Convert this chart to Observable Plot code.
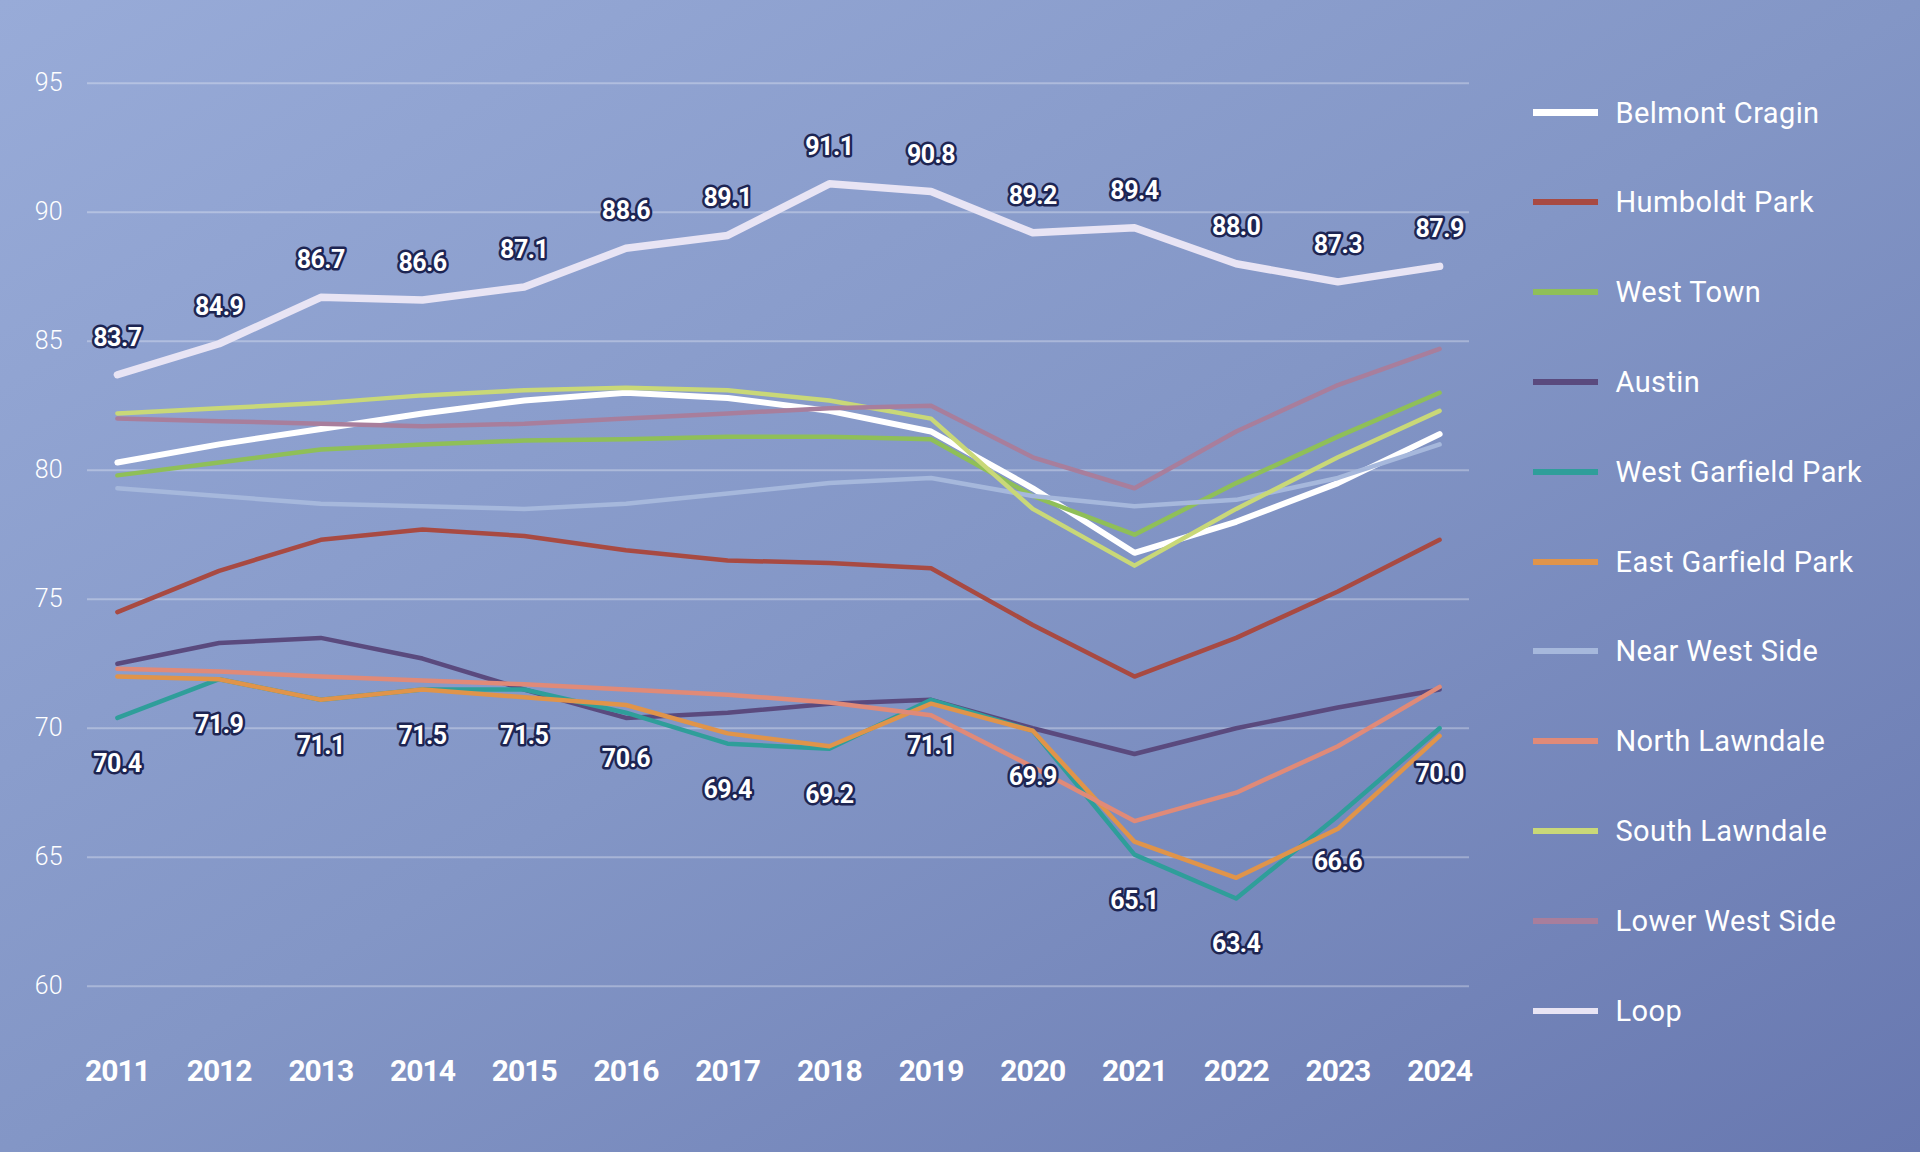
<!DOCTYPE html>
<html>
<head>
<meta charset="utf-8">
<script src="https://cdn.jsdelivr.net/npm/d3@7"></script>
<script src="https://cdn.jsdelivr.net/npm/@observablehq/plot@0.6"></script>
<style>
  html, body { margin: 0; padding: 0; }
  #page {
    position: relative; width: 1920px; height: 1152px; overflow: hidden;
    background: linear-gradient(to bottom right, #98abd8 0%, #8396c6 50%, #6878b0 100%);
    font-family: Roboto, "Noto Sans", sans-serif;
  }
  #chart { position: absolute; left: 0; top: 0; }
  #legend { position: absolute; left: 1533px; top: 67.8px; }
  .row { height: 89.8px; display: flex; align-items: center; }
  .sw { width: 65px; height: 6px; margin-right: 17.5px; }
  .lb { color: #ffffff; font-size: 29px; font-weight: 400; letter-spacing: 0.4px; white-space: nowrap; }
</style>
</head>
<body>
<div id="page">
  <div id="chart"></div>
  <div id="legend"></div>
</div>
<script>
const years = [2011, 2012, 2013, 2014, 2015, 2016, 2017, 2018, 2019, 2020, 2021, 2022, 2023, 2024];

const belmontCragin   = [80.3, 81.0, 81.6, 82.2, 82.7, 83.0, 82.8, 82.3, 81.5, 79.3, 76.8, 78.0, 79.5, 81.4];
const humboldtPark    = [74.5, 76.1, 77.3, 77.7, 77.45, 76.9, 76.5, 76.4, 76.2, 74.0, 72.0, 73.5, 75.3, 77.3];
const westTown        = [79.8, 80.3, 80.8, 81.0, 81.15, 81.2, 81.3, 81.3, 81.2, 79.0, 77.5, 79.5, 81.3, 83.0];
const austin          = [72.5, 73.3, 73.5, 72.7, 71.5, 70.4, 70.6, 70.95, 71.1, 70.0, 69.0, 70.0, 70.8, 71.5];
const westGarfield    = [70.4, 71.9, 71.1, 71.5, 71.5, 70.6, 69.4, 69.2, 71.1, 69.9, 65.1, 63.4, 66.6, 70.0];
const eastGarfield    = [72.0, 71.9, 71.1, 71.5, 71.2, 70.9, 69.8, 69.3, 70.95, 69.9, 65.6, 64.2, 66.1, 69.7];
const nearWestSide    = [79.3, 79.0, 78.7, 78.6, 78.5, 78.7, 79.1, 79.5, 79.7, 79.0, 78.6, 78.85, 79.7, 81.0];
const northLawndale   = [72.3, 72.2, 72.0, 71.85, 71.7, 71.5, 71.3, 71.0, 70.5, 68.5, 66.4, 67.5, 69.3, 71.6];
const southLawndale   = [82.2, 82.4, 82.6, 82.9, 83.1, 83.2, 83.1, 82.7, 82.0, 78.5, 76.3, 78.5, 80.5, 82.3];
const lowerWestSide   = [82.0, 81.9, 81.8, 81.7, 81.8, 82.0, 82.2, 82.4, 82.5, 80.5, 79.3, 81.5, 83.3, 84.7];
const loop            = [83.7, 84.9, 86.7, 86.6, 87.1, 88.6, 89.1, 91.1, 90.8, 89.2, 89.4, 88.0, 87.3, 87.9];

const seriesNames  = ["Belmont Cragin", "Humboldt Park", "West Town", "Austin", "West Garfield Park",
                      "East Garfield Park", "Near West Side", "North Lawndale", "South Lawndale", "Lower West Side", "Loop"];
const seriesValues = [belmontCragin, humboldtPark, westTown, austin, westGarfield,
                      eastGarfield, nearWestSide, northLawndale, southLawndale, lowerWestSide, loop];
const seriesColors = ["#ffffff", "#a84a42", "#8fbf58", "#5a4a7e", "#2f9e9a",
                      "#e0944a", "#a6b8dc", "#e08a78", "#c9d878", "#a87e9c", "#e8e4f4"];
const seriesWidths = [6, 4.5, 4.5, 4.5, 4.5, 4.5, 4.5, 4.5, 4.5, 4.5, 7.5];
const yTicks = [60, 65, 70, 75, 80, 85, 90, 95];

const tables = seriesNames.map((name, i) =>
  years.map((year, j) => ({ name, year, value: seriesValues[i][j] })));

const lineMarks = tables.map((t, i) => Plot.line(t, {
  x: "year", y: "value",
  stroke: seriesColors[i], strokeWidth: seriesWidths[i],
  strokeLinejoin: "round", strokeLinecap: "round"
}));

const labelStyle = {
  x: "year", y: "value", text: d => d.value.toFixed(1),
  fill: "#ffffff", stroke: "#1d2553", strokeWidth: 5, strokeLinejoin: "round",
  fontSize: 25, fontWeight: 700, fontFamily: "Roboto"
};

const chart = Plot.plot({
  width: 1500,
  height: 1152,
  marginLeft: 87,
  marginRight: 31,
  marginTop: 82.7,
  marginBottom: 166.3,
  style: { background: "transparent", color: "#ffffff", fontFamily: "Roboto", overflow: "visible" },
  x: { type: "point", domain: years, padding: 0.294, round: false },
  y: { domain: [60, 95] },
  marks: [
    Plot.gridY(yTicks, { stroke: "#ffffff", strokeOpacity: 0.3, strokeWidth: 2 }),
    Plot.axisY(yTicks, { tickSize: 0, tickPadding: 25, fontSize: 25, fontWeight: 300, label: null, fill: "#ffffff" }),
    Plot.axisX(years, { tickSize: 0, tickPadding: 73, fontSize: 30, fontWeight: 700, label: null, fill: "#ffffff", tickFormat: d => String(d) }),
    ...lineMarks,
    Plot.text(tables[10], { ...labelStyle, dy: -37 }),
    Plot.text(tables[4], { ...labelStyle, dy: 46 })
  ]
});

chart.querySelectorAll('[aria-label="x-axis tick label"] text').forEach(t => t.style.letterSpacing = "-1px");
chart.querySelectorAll('[aria-label="text"] text').forEach(t => t.style.letterSpacing = "-0.5px");
document.getElementById("chart").appendChild(chart);

const legend = document.getElementById("legend");
seriesNames.forEach((name, i) => {
  const row = document.createElement("div");
  row.className = "row";
  const sw = document.createElement("div");
  sw.className = "sw";
  sw.style.background = seriesColors[i];
  sw.style.height = (i === 0 ? 7 : 6) + "px";
  const lb = document.createElement("div");
  lb.className = "lb";
  lb.textContent = name;
  row.appendChild(sw);
  row.appendChild(lb);
  legend.appendChild(row);
});
</script>
</body>
</html>
